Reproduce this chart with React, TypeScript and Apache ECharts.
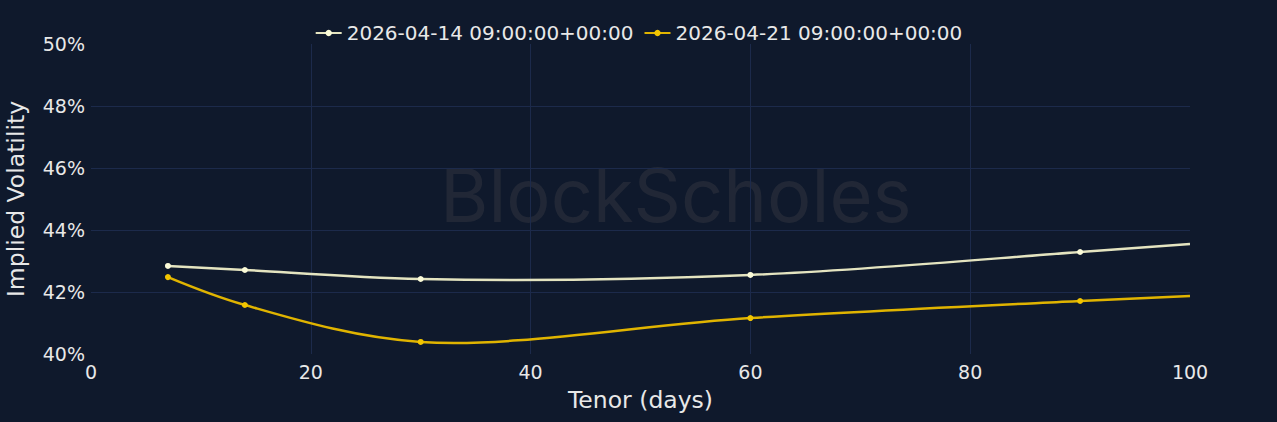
import React, { useEffect, useRef } from "react";
import * as echarts from "echarts";

const seriesNames = ["2026-04-14 09:00:00+00:00", "2026-04-21 09:00:00+00:00"];
const tenors = [7, 14, 30, 60, 90, 100];
const vol0414 = [42.84, 42.71, 42.42, 42.55, 43.29, 43.55];
const vol0421 = [42.48, 41.58, 40.39, 41.16, 41.71, 41.87];
const markerShown = [true, true, true, true, true, false];
const lineColors = ["#e4e4c0", "#e0b400"];
const dotColors = ["#fbfbd8", "#f2c500"];

const FONT = "DejaVu Sans, Verdana, sans-serif";
const BG = "#0f192c";
const GRID = "#1c2a4b";
const TEXT = "#e8e8e8";

function tangent(p0: number[], p1: number[], p2: number[], s: number) {
  const d1x = p0[0] - p1[0], d1y = p0[1] - p1[1];
  const d2x = p2[0] - p1[0], d2y = p2[1] - p1[1];
  const d1a = Math.pow(d1x * d1x + d1y * d1y, 0.25);
  const d2a = Math.pow(d2x * d2x + d2y * d2y, 0.25);
  const nx = (d2a * d2a * d1x - d1a * d1a * d2x) * s;
  const ny = (d2a * d2a * d1y - d1a * d1a * d2y) * s;
  const den1 = 3 * d2a * (d1a + d2a);
  const den2 = 3 * d1a * (d1a + d2a);
  return [
    [p1[0] + (den1 ? nx / den1 : 0), p1[1] + (den1 ? ny / den1 : 0)],
    [p1[0] - (den2 ? nx / den2 : 0), p1[1] - (den2 ? ny / den2 : 0)],
  ];
}

function splinePath(pts: number[][]) {
  const f = (p: number[]) => `${p[0].toFixed(2)},${p[1].toFixed(2)}`;
  if (pts.length < 3) return "M" + pts.map(f).join("L");
  const tg: number[][][] = [];
  for (let i = 1; i < pts.length - 1; i++) tg.push(tangent(pts[i - 1], pts[i], pts[i + 1], 1));
  let d = "M" + f(pts[0]) + "Q" + f(tg[0][0]) + " " + f(pts[1]);
  for (let i = 2; i < pts.length - 1; i++) {
    d += "C" + f(tg[i - 2][1]) + " " + f(tg[i - 1][0]) + " " + f(pts[i]);
  }
  d += "Q" + f(tg[pts.length - 3][1]) + " " + f(pts[pts.length - 1]);
  return d;
}

function curveSeries(vals: number[], color: string) {
  return {
    type: "custom",
    name: "curve",
    data: tenors.map((t, i) => [t, vals[i]]),
    z: 2,
    silent: true,
    renderItem: (params: any, api: any) => {
      if (params.dataIndex !== 0) return null;
      const pts = tenors.map((t, i) => api.coord([t, vals[i]]));
      return {
        type: "path",
        shape: { pathData: splinePath(pts) },
        style: { fill: "none", stroke: color, lineWidth: 2.5 },
      };
    },
  };
}

function markerSeries(vals: number[], color: string) {
  return {
    type: "scatter",
    name: "markers",
    data: tenors.map((t, i) => [t, vals[i]]).filter((_, i) => markerShown[i]),
    symbol: "circle",
    symbolSize: 6,
    itemStyle: { color, opacity: 1 },
    z: 3,
    silent: true,
  };
}

export default function App() {
  const ref = useRef<HTMLDivElement>(null);
  useEffect(() => {
    if (!ref.current) return;
    const chart = echarts.init(ref.current, undefined, { renderer: "svg" });
    chart.setOption({
      animation: false,
      backgroundColor: BG,
      textStyle: { fontFamily: FONT },
      graphic: [
        {
          type: "text",
          left: 440,
          top: 158,
          z: 0,
          silent: true,
          style: {
            text: "BlockScholes",
            fontFamily: "Inter, DejaVu Sans, sans-serif",
            fontSize: 74,
            fill: "rgba(70,70,75,0.33)",
          },
        },
      ],
      legend: {
        top: 18,
        left: "center",
        itemWidth: 26,
        itemHeight: 8,
        itemGap: 10,
        textStyle: { color: TEXT, fontSize: 20, fontFamily: FONT },
        data: seriesNames,
      },
      grid: { left: 91, right: 87, top: 44, bottom: 68, containLabel: false, outerBoundsMode: "none" },
      xAxis: {
        type: "value",
        min: 0,
        max: 100,
        interval: 20,
        name: "Tenor (days)",
        nameLocation: "middle",
        nameGap: 34,
        nameTextStyle: { color: TEXT, fontSize: 23.5, fontFamily: FONT },
        axisLine: { show: false },
        axisTick: { show: false },
        axisLabel: { color: TEXT, fontSize: 19, margin: 8, fontFamily: FONT },
        splitLine: {
          show: true,
          lineStyle: { color: ["transparent", GRID, GRID, GRID, GRID, "transparent"], width: 1 },
        },
      },
      yAxis: {
        type: "value",
        min: 40,
        max: 50,
        interval: 2,
        name: "Implied Volatility",
        nameLocation: "middle",
        nameGap: 63,
        nameTextStyle: { color: TEXT, fontSize: 23.5, fontFamily: FONT },
        axisLine: { show: false },
        axisTick: { show: false },
        axisLabel: {
          color: TEXT,
          fontSize: 19,
          margin: 6,
          fontFamily: FONT,
          formatter: (v: number) => `${v}%`,
        },
        splitLine: {
          show: true,
          lineStyle: { color: ["transparent", GRID, GRID, GRID, GRID, "transparent"], width: 1 },
        },
      },
      series: [
        {
          name: seriesNames[0],
          type: "line",
          data: [],
          symbol: "circle",
          symbolSize: 6,
          lineStyle: { color: lineColors[0], width: 2.5 },
          itemStyle: { color: dotColors[0] },
        },
        {
          name: seriesNames[1],
          type: "line",
          data: [],
          symbol: "circle",
          symbolSize: 6,
          lineStyle: { color: lineColors[1], width: 2.5 },
          itemStyle: { color: dotColors[1] },
        },
        curveSeries(vol0414, lineColors[0]),
        curveSeries(vol0421, lineColors[1]),
        markerSeries(vol0414, dotColors[0]),
        markerSeries(vol0421, dotColors[1]),
      ],
    });
    return () => chart.dispose();
  }, []);
  return <div ref={ref} style={{ width: 1277, height: 422, position: "absolute", left: 0, top: 0 }} />;
}
